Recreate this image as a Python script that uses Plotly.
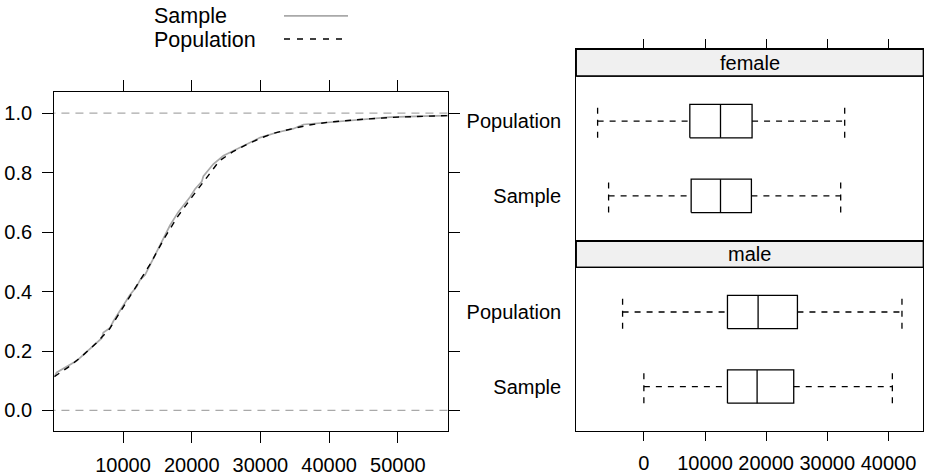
import plotly.graph_objects as go

# ---------------- data ----------------
# ECDF (left panel): x values and cumulative proportions
sample_x = [0, 350, 3262, 5679, 6902, 7135, 8111, 8591, 9814, 11023, 12000, 12479,
            13207, 14183, 15396, 16850, 18056, 19760, 20488, 21464, 21697, 23153,
            24609, 26065, 28016, 29952, 32384, 34801, 36258, 39170, 44032, 48883,
            53733, 57300]
sample_F = [0.114, 0.128, 0.167, 0.217, 0.243, 0.262, 0.278, 0.300, 0.345, 0.389,
            0.417, 0.439, 0.456, 0.501, 0.556, 0.623, 0.668, 0.718, 0.745, 0.770,
            0.788, 0.829, 0.857, 0.873, 0.895, 0.918, 0.935, 0.948, 0.962, 0.968,
            0.979, 0.987, 0.990, 0.992]
pop_x = [0, 2000, 4000, 6000, 8000, 10000, 12000, 14000, 16000, 18000, 20000,
         22000, 24000, 26000, 28000, 30000, 32000, 35000, 37000, 40000, 45000,
         50000, 57300]
pop_F = [0.114, 0.145, 0.182, 0.224, 0.273, 0.347, 0.419, 0.494, 0.579, 0.654,
         0.717, 0.780, 0.839, 0.871, 0.895, 0.916, 0.933, 0.950, 0.960, 0.970,
         0.980, 0.987, 0.992]

ecdf_xticks = [10000, 20000, 30000, 40000, 50000]
ecdf_yticks = [0.0, 0.2, 0.4, 0.6, 0.8, 1.0]
ecdf_ref = [0.0, 1.0]

# Boxplots (right panels): [lower whisker, Q1, median, Q3, upper whisker]
box_groups = ["Sample", "Population"]
female_stats = {"Population": [-7565, 7516, 12533, 17696, 32843],
                "Sample": [-5768, 7734, 12533, 17587, 32190]}
male_stats = {"Population": [-3480, 13671, 18682, 25114, 42211],
              "Sample": [0, 13671, 18519, 24510, 40638]}
box_xticks = [0, 10000, 20000, 30000, 40000]
panels = ["female", "male"]

# ---------------- style ----------------
W, H = 925, 476
FONT = "Liberation Sans, Arial, Helvetica, sans-serif"
FS = 20
FS_LEG = 21.5
GRAY = "#a9a9a9"
LW = 1.3


def px_x(p):
    return p / W


def px_y(p):
    return 1 - p / H


fig = go.Figure()

# ---- ECDF panel ----
for yv in ecdf_ref:
    fig.add_trace(go.Scatter(x=[-1000, 60000], y=[yv, yv], mode="lines",
                             line=dict(color=GRAY, width=1.2, dash="8px,6px"),
                             xaxis="x", yaxis="y", showlegend=False, hoverinfo="skip"))
fig.add_trace(go.Scatter(x=sample_x, y=sample_F, mode="lines",
                         line=dict(color=GRAY, width=1.7), name="Sample",
                         xaxis="x", yaxis="y", showlegend=False))
fig.add_trace(go.Scatter(x=pop_x, y=pop_F, mode="lines",
                         line=dict(color="black", width=1.4, dash="6px,6px"),
                         name="Population", xaxis="x", yaxis="y", showlegend=False))

# ---- box panels ----
H_BOX = 0.223
ypos = {g: i + 1 for i, g in enumerate(box_groups)}


def add_boxes(stats, xa, ya):
    bx, by, wx, wy = [], [], [], []
    for g in box_groups:
        lo, q1, med, q3, hi = stats[g]
        p = ypos[g]
        bx += [q1, q3, q3, q1, q1, None, med, med, None]
        by += [p - H_BOX, p - H_BOX, p + H_BOX, p + H_BOX, p - H_BOX, None,
               p - H_BOX, p + H_BOX, None]
        wx += [lo, q1, None, q3, hi, None, lo, lo, None, hi, hi, None]
        wy += [p, p, None, p, p, None, p - H_BOX, p + H_BOX, None,
               p - H_BOX, p + H_BOX, None]
    fig.add_trace(go.Scatter(x=wx, y=wy, mode="lines",
                             line=dict(color="black", width=LW, dash="6px,6px"),
                             xaxis=xa, yaxis=ya, showlegend=False, hoverinfo="skip"))
    fig.add_trace(go.Scatter(x=bx, y=by, mode="lines",
                             line=dict(color="black", width=LW),
                             xaxis=xa, yaxis=ya, showlegend=False, hoverinfo="skip"))


add_boxes(female_stats, "x2", "y2")
add_boxes(male_stats, "x3", "y3")

# ---------------- layout ----------------
L_X0, L_X1, L_Y0, L_Y1 = 54.3, 448, 93, 434
R_X0, R_X1 = 576.3, 923.3
F_STRIP0, F_STRIP1, F_BOT = 49.7, 76.7, 242.3
M_STRIP1, M_BOT = 269, 434

axis_common = dict(showline=True, linecolor="black", linewidth=LW, showgrid=False,
                   zeroline=False, ticks="outside", ticklen=11, tickwidth=LW,
                   tickcolor="black",
                   tickfont=dict(family=FONT, size=FS, color="black"))

f_units = (F_BOT - F_STRIP1) / 2.2
m_units = (M_BOT - M_STRIP1) / 2.2

layout = dict(
    width=W, height=H, margin=dict(l=0, r=0, t=0, b=0),
    paper_bgcolor="white", plot_bgcolor="white", showlegend=False,
    xaxis=dict(axis_common, domain=[px_x(L_X0), px_x(L_X1)], range=[0, 57300],
               tickvals=ecdf_xticks, ticktext=[str(v) for v in ecdf_xticks],
               mirror="ticks", anchor="y", ticklabelstandoff=5),
    yaxis=dict(axis_common, domain=[px_y(L_Y1), px_y(L_Y0)], range=[-0.07, 1.07],
               tickvals=ecdf_yticks, ticktext=["%.1f" % v for v in ecdf_yticks],
               mirror="ticks", anchor="x", ticklabelstandoff=6),
    xaxis2=dict(axis_common, domain=[px_x(R_X0), px_x(R_X1)],
                range=[-11050, 45700], tickvals=box_xticks, side="top",
                showticklabels=False, mirror=True, anchor="y2", ticklen=9),
    yaxis2=dict(axis_common, domain=[px_y(F_BOT), px_y(F_STRIP0)],
                range=[0.4, 2.6 + (F_STRIP1 - F_STRIP0) / f_units],
                tickvals=[ypos[g] for g in box_groups], ticktext=box_groups,
                ticks="", mirror=True, anchor="x2", ticklabelstandoff=10),
    xaxis3=dict(axis_common, domain=[px_x(R_X0), px_x(R_X1)],
                range=[-11050, 45700], tickvals=box_xticks,
                ticktext=[str(v) for v in box_xticks],
                mirror=True, anchor="y3", ticklen=9, ticklabelstandoff=5),
    yaxis3=dict(axis_common, domain=[px_y(M_BOT), px_y(F_BOT)],
                range=[0.4, 2.6 + (M_STRIP1 - F_BOT) / m_units],
                tickvals=[ypos[g] for g in box_groups], ticktext=box_groups,
                ticks="", mirror=True, anchor="x3", ticklabelstandoff=10),
)
fig.update_layout(**layout)

shapes = []
annotations = []
# strips
for name, (s0, s1) in zip(panels, [(F_STRIP0, F_STRIP1), (F_BOT, M_STRIP1)]):
    shapes.append(dict(type="rect", xref="paper", yref="paper",
                       x0=px_x(R_X0), x1=px_x(R_X1), y0=px_y(s1), y1=px_y(s0),
                       fillcolor="#f0f0f0", line=dict(color="black", width=LW),
                       layer="below"))
    shapes.append(dict(type="line", xref="paper", yref="paper",
                       x0=px_x(R_X0), x1=px_x(R_X1), y0=px_y(s1), y1=px_y(s1),
                       line=dict(color="black", width=LW)))
    annotations.append(dict(text=name, xref="paper", yref="paper",
                            x=px_x((R_X0 + R_X1) / 2), y=px_y((s0 + s1) / 2),
                            xanchor="center", yanchor="middle", showarrow=False,
                            font=dict(family=FONT, size=FS, color="black")))

# legend (text left, key right)
legend_items = [("Sample", 16.3, 16, dict(color=GRAY, width=1.7)),
                ("Population", 40.5, 39.3, dict(color="black", width=1.4, dash="6px,7px"))]
for label, ty, ly, ln in legend_items:
    annotations.append(dict(text=label, xref="paper", yref="paper",
                            x=px_x(153), y=px_y(ty), xanchor="left", yanchor="middle",
                            showarrow=False, borderpad=0,
                            font=dict(family=FONT, size=FS_LEG, color="black")))
    shapes.append(dict(type="line", xref="paper", yref="paper",
                       x0=px_x(284), x1=px_x(348), y0=px_y(ly), y1=px_y(ly),
                       line=ln))

fig.update_layout(shapes=shapes, annotations=annotations)
fig.write_html("out.html")
